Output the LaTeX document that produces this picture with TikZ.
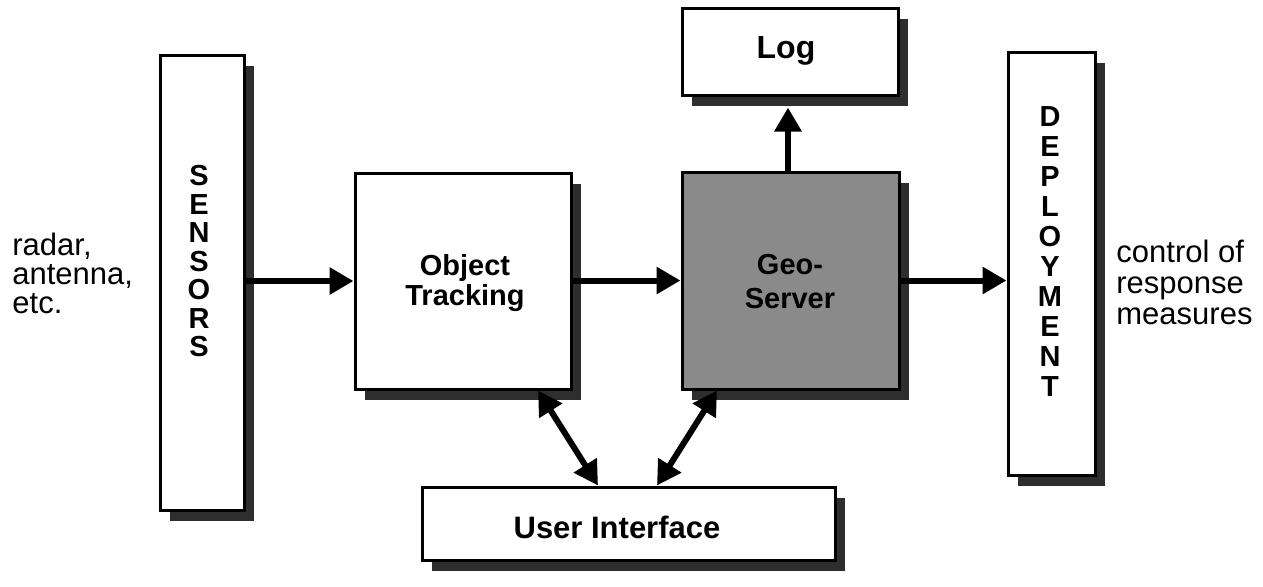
\documentclass[tikz,border=0pt]{standalone}
\usepackage{fontspec}
\setmainfont{Liberation Sans}
\usetikzlibrary{shadows,arrows.meta,calc}
\begin{document}
\begin{tikzpicture}[x=0.5pt,y=-0.5pt,
  blk/.style={draw=black,line width=1.5pt,fill=white,inner sep=0pt,
    drop shadow={shadow xshift=5pt,shadow yshift=-5.5pt,fill=black!82,opacity=1}},
  conn/.style={line width=3pt,-{Triangle[length=12pt,width=13pt]}},
  biconn/.style={line width=3pt,{Triangle[length=12pt,width=13pt]}-{Triangle[length=12pt,width=13pt]}},
  lbl/.style={font=\bfseries\fontsize{14.5pt}{15pt}\selectfont,align=center},
  vstack/.style={font=\bfseries\fontsize{14.5pt}{#1}\selectfont,align=center,inner sep=0pt},
  side/.style={font=\fontsize{15.5pt}{#1}\selectfont,align=left,inner sep=0pt}
]
\useasboundingbox (0,0) rectangle (1263,586);

\node[blk,minimum width=42pt,minimum height=227.5pt] (sensors) at (202,282.5) {};
\node[vstack=14.25pt] (sensorstxt) at (199,261.5) {S\\E\\N\\S\\O\\R\\S};

\node[blk,minimum width=108pt,minimum height=108pt] (ot) at (463,281) {};
\node[lbl] (ottxt) at (465,283) {Object\\Tracking};

\node[blk,fill=black!46,minimum width=108.5pt,minimum height=108.5pt] (geo) at (790.5,280.5) {};
\node[lbl,font=\bfseries\fontsize{14.5pt}{17pt}\selectfont] (geotxt) at (790,282) {Geo-\\Server};

\node[blk,minimum width=108pt,minimum height=43.5pt] (log) at (790,51.5) {};
\node[font=\bfseries\fontsize{16pt}{18pt}\selectfont] (logtxt) at (786,51) {Log};

\node[blk,minimum width=43.5pt,minimum height=211.5pt] (dep) at (1051.5,263.5) {};
\node[vstack=15pt] (deptxt) at (1050,251.5) {D\\E\\P\\L\\O\\Y\\M\\E\\N\\T};

\node[blk,minimum width=206.5pt,minimum height=36.5pt] (ui) at (628.5,523.5) {};
\node[font=\bfseries\fontsize{15.5pt}{18pt}\selectfont] (uitxt) at (617,527) {User Interface};

\node[side=14.5pt,anchor=west] (src) at (12,273) {radar,\\antenna,\\etc.};
\node[side=15.5pt,anchor=west] (dst) at (1116,282) {control of\\response\\measures};

\draw[conn] (sensors.east |- ot.west) -- (ot.west);
\draw[conn] (ot.east |- geo.west) -- (geo.west);
\draw[conn] (geo.east) -- (geo.east -| dep.west);
\draw[conn] ($(geo.north)+(-2.5,0)$) -- ($(log.south)+(-2,11)$);
\draw[biconn] ($(ot.south)+(75,0)$) -- ($(ui.north)+(-30.5,0)$);
\draw[biconn] ($(geo.south)+(-73.5,0)$) -- ($(ui.north)+(28.5,0)$);
\end{tikzpicture}
\end{document}
